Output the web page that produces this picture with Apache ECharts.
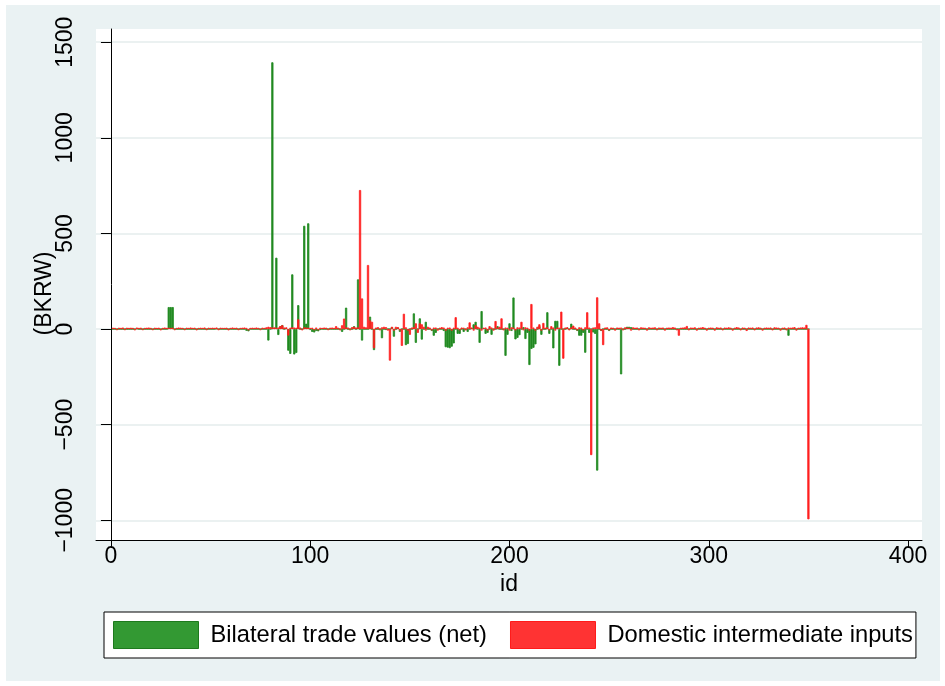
<!DOCTYPE html>
<html>
<head>
<meta charset="utf-8">
<script src="https://cdn.jsdelivr.net/npm/echarts@6/dist/echarts.min.js"></script>
<style>
  html, body { margin: 0; padding: 0; background: #ffffff; }
  #chart { position: absolute; left: 6px; top: 5px; width: 934px; height: 676px; }
</style>
</head>
<body>
<div id="chart"></div>
<script>
// Tick labels
const xTicks = [0, 100, 200, 300, 400];
const yTicks = [-1000, -500, 0, 500, 1000, 1500];

// Series names
const seriesNames = ['Bilateral trade values (net)', 'Domestic intermediate inputs'];

// Bilateral trade values (net), BKRW, for id 1..350
const tradeNet = [
  0, 0, 0, 0, 0, 0, 0, 0, 0, 0,
  0, 0, 3, 0, 0, 0, 0, 0, 0, 0,
  0, 0, 0, 0, 0, 0, 0, 0, 115, 115,
  115, 0, 0, 0, 0, 0, 0, 0, 0, 0,
  0, 0, 0, 0, 0, 0, 0, 0, 0, 0,
  0, 0, 3, 0, 0, 0, 0, 0, 0, 0,
  0, 0, 0, 0, 0, 0, 0, -9, -12, 0,
  0, 0, 0, 0, 0, 0, 0, 0, -60, 0,
  1395, 5, 373, -31, 15, 21, 0, 5, -113, -130,
  286, -133, -125, 125, 0, 0, 540, 28, 553, -5,
  -15, -18, -10, -12, -5, 0, 0, 0, 0, 0,
  0, 0, 0, 0, 0, -15, 0, 112, 0, 0,
  0, 15, 0, 260, 0, -60, 0, 0, 0, 65,
  0, -110, 0, 0, 0, -48, 0, -5, 0, 0,
  10, -40, 0, 8, -15, 0, 0, -84, -78, 0,
  0, 82, -72, 0, 56, -55, 0, 38, 0, 0,
  -10, -35, -20, 0, 0, 0, -10, -95, -97, -100,
  -92, -75, 0, -25, -25, 0, -15, 0, -15, 0,
  5, 25, 38, 0, -72, 94, 5, -25, -20, 0,
  -30, 0, 0, 15, 0, 0, 0, -140, -30, 30,
  -10, 165, -54, -46, -32, 0, 10, -52, -20, -188,
  -104, -98, -80, 0, 15, -30, 0, 0, 88, -25,
  0, -101, 43, 43, -192, 0, 0, 0, 8, 0,
  28, 0, 0, -10, -35, -35, -20, -124, 0, -20,
  0, -18, -25, -740, 0, -10, 0, 0, 0, -10,
  0, 0, 0, 0, 0, -237, 0, 0, 12, 12,
  10, 0, 0, 0, 0, 0, 0, 0, 0, 0,
  0, 0, 0, 0, 0, 0, 0, 0, 0, 0,
  0, 0, 0, 0, 0, 0, 0, 0, 0, 0,
  0, 0, 0, 0, 0, 0, 0, 0, 0, 0,
  0, 0, 0, 0, 0, 0, 0, 0, 0, 0,
  0, 0, 0, 0, 0, 0, 0, 0, 0, 0,
  0, 0, 0, 0, 0, 0, 0, 0, 0, 0,
  0, 0, 0, 0, 0, 0, 0, 0, 0, -35,
  0, 0, 0, 0, 0, 0, 0, 0, 0, 0
];

// Domestic intermediate inputs, BKRW, for id 1..350
const domesticInputs = [
  7, 6, -6, 7, 6, 8, -6, 7, 6, 7,
  6, -7, 8, 6, 7, -6, 6, 7, 8, 6,
  -6, 7, 6, 7, -7, 6, 8, 6, 7, 6,
  7, -6, 6, 8, 7, 6, -6, 7, 6, 8,
  6, 7, -7, 6, 7, 6, 8, -6, 7, 6,
  7, 6, 8, -6, 7, 6, 6, 7, -7, 6,
  8, 6, 7, -6, 6, 7, 8, 6, -7, 6,
  7, 6, 8, 6, -6, 7, 6, 9, 12, 10,
  8, 9, 7, 8, 15, 20, 8, 9, -34, 7,
  9, 8, 7, 51, 8, -7, 9, 8, 7, 6,
  7, -6, 8, -6, 7, 6, 8, 7, -6, 7,
  8, 6, 15, 7, -7, 20, 55, 9, 8, -7,
  10, 12, 8, 9, 727, 160, 12, 9, 335, 45,
  38, -100, 8, 10, -7, 9, 12, 10, -8, -165,
  12, -8, 12, 10, -7, -88, 80, 9, -8, -30,
  8, 10, 30, -20, 30, 25, 12, -8, 12, 8,
  -7, 8, 8, -8, 7, 10, 8, -8, 7, 8,
  -8, 7, 62, 7, -7, 8, 7, -7, 9, 35,
  8, -8, 20, 12, 7, -8, 7, 8, -8, 15,
  8, -8, 42, 7, 12, 56, -7, 8, 7, -8,
  9, 8, -7, 9, 8, 38, -7, 9, 7, -8,
  131, 8, -8, 12, 25, -8, 32, 7, 9, -7,
  15, 8, -8, 8, 7, 91, -155, 8, 9, -7,
  9, 18, 8, -7, 9, 8, -7, 9, 88, 8,
  -659, 8, 9, 166, 30, -8, -84, 8, 9, -7,
  8, 7, -8, 8, 7, 8, -7, 9, 8, 7,
  -8, 9, 7, 8, -7, 9, 8, 7, -8, 9,
  7, 8, 9, -7, 8, 7, 8, -8, 7, 8,
  7, 10, 8, -7, -35, 7, 8, 9, 16, -7,
  8, 7, 9, -8, 7, 8, 10, 7, -8, 7,
  8, 7, -8, 9, 7, 8, -7, 8, 7, 9,
  7, -8, 7, 10, 8, -7, 8, 7, -10, 8,
  7, 8, -7, 8, 9, 7, -8, 7, 8, 7,
  8, -7, 9, 8, 7, -8, 7, 8, -7, 8,
  7, 8, 10, -8, 7, 8, 9, 8, 22, -995
];

const ids = tradeNet.map((_, i) => i + 1);

const FONT = "'Liberation Sans', Arial, Helvetica, sans-serif";
const GREEN = '#218a21';
const RED = '#ff1f1f';

const fmt = v => (v < 0 ? '\u2212' + Math.abs(v) : String(v));

const chart = echarts.init(document.getElementById('chart'), null, { renderer: 'canvas' });

chart.setOption({
  animation: false,
  backgroundColor: '#eaf2f3',
  textStyle: { fontFamily: FONT, color: '#000' },
  grid: {
    left: 90, top: 24, width: 826, height: 511,
    show: true, backgroundColor: '#ffffff', borderWidth: 0,
    containLabel: false
  },
  xAxis: {
    type: 'value',
    min: -7.5, max: 407,
    name: 'id',
    nameLocation: 'middle',
    nameGap: 33,
    nameMoveOverlap: false,
    nameTextStyle: { fontFamily: FONT, fontSize: 23, color: '#000' },
    axisLine: { show: true, onZero: false, lineStyle: { color: '#000', width: 1 } },
    axisTick: { show: true, customValues: xTicks, length: 8, lineStyle: { color: '#000', width: 1 } },
    axisLabel: { customValues: xTicks, margin: 5, fontFamily: FONT, fontSize: 23, color: '#000', formatter: fmt },
    splitLine: { show: false }
  },
  yAxis: {
    type: 'value',
    min: -1103, max: 1569,
    name: '(BKRW)',
    nameLocation: 'middle',
    nameRotate: 90,
    nameGap: 40,
    nameMoveOverlap: false,
    nameTextStyle: { fontFamily: FONT, fontSize: 23, color: '#000', padding: [0, 18, 0, 0] },
    axisLine: { show: true, lineStyle: { color: '#000', width: 1 } },
    axisTick: { show: true, customValues: yTicks, length: 10, lineStyle: { color: '#000', width: 1 } },
    axisLabel: { customValues: yTicks, rotate: 90, margin: 19, fontFamily: FONT, fontSize: 23, color: '#000', formatter: fmt },
    splitLine: { show: true, lineStyle: { color: '#e4eced', width: 1.5 } }
  },
  legend: {
    left: 98, top: 607,
    orient: 'horizontal',
    selectedMode: false,
    padding: [9, 3, 9, 9],
    itemGap: 23,
    itemWidth: 85,
    itemHeight: 27,
    icon: 'rect',
    backgroundColor: '#ffffff',
    borderColor: '#000',
    borderWidth: 1,
    borderRadius: 0,
    textStyle: { fontFamily: FONT, fontSize: 23.7, color: '#000', padding: [0, 0, 0, 7] },
    data: [
      { name: seriesNames[0], itemStyle: { color: '#339933', borderColor: '#1e7a1e', borderWidth: 1 } },
      { name: seriesNames[1], itemStyle: { color: '#ff3333', borderColor: '#ff1a1a', borderWidth: 1 } }
    ]
  },
  series: [
    {
      name: seriesNames[0],
      type: 'bar',
      barWidth: 2.2,
      barGap: '-100%',
      itemStyle: { color: GREEN, borderColor: GREEN, borderWidth: 0.8 },
      data: ids.map((id, i) => [id, tradeNet[i]])
    },
    {
      name: seriesNames[1],
      type: 'bar',
      barWidth: 2.2,
      barGap: '-100%',
      itemStyle: { color: RED, borderColor: RED, borderWidth: 0.8 },
      data: ids.map((id, i) => [id, domesticInputs[i]])
    }
  ]
});
</script>
</body>
</html>
